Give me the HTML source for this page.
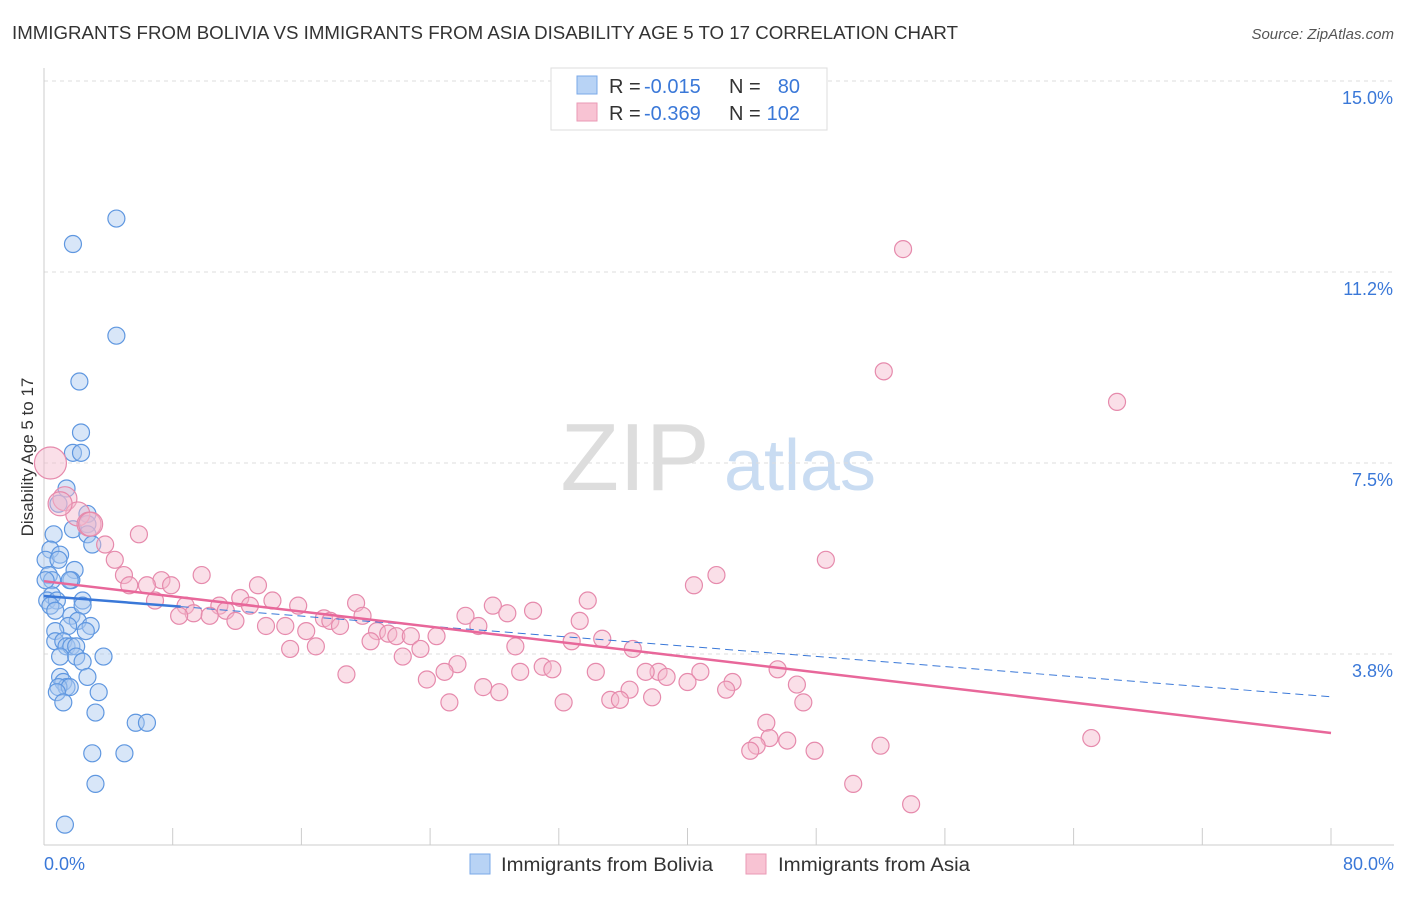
<!DOCTYPE html>
<html><head><meta charset="utf-8"><style>
body{margin:0;background:#fff;font-family:"Liberation Sans",sans-serif;}
svg text{font-family:"Liberation Sans",sans-serif;}
</style></head><body>
<svg width="1406" height="892" xmlns="http://www.w3.org/2000/svg" id="c">
<text x="12" y="39" font-size="18" fill="#333" textLength="946" lengthAdjust="spacingAndGlyphs">IMMIGRANTS FROM BOLIVIA VS IMMIGRANTS FROM ASIA DISABILITY AGE 5 TO 17 CORRELATION CHART</text>
<text x="1394" y="39" font-size="15" fill="#555" text-anchor="end" font-style="italic">Source: ZipAtlas.com</text>
<text transform="translate(33,457) rotate(-90)" font-size="17" fill="#333" text-anchor="middle">Disability Age 5 to 17</text>
<g>
<text x="635" y="490" font-size="96" fill="#ddd" text-anchor="middle" font-family="Liberation Serif, serif">ZIP</text>
<text x="800" y="490" font-size="72" fill="#c9dcf2" text-anchor="middle">atlas</text>
</g>
<g id="grid"></g><g id="axes"></g><g id="pts"></g><g id="trend"></g>
<g>
<rect x="551" y="68" width="276" height="62" fill="#fff" stroke="#ddd"/>
<rect x="577" y="76" width="20" height="18" fill="#b8d3f5" stroke="#7aa8e8"/>
<rect x="577" y="103" width="20" height="18" fill="#f8c3d3" stroke="#ea9ab6"/>
<text x="609" y="93" font-size="20" fill="#333">R =</text>
<text x="644" y="93" font-size="20" fill="#3a78d8">-0.015</text>
<text x="729" y="93" font-size="20" fill="#333">N =</text>
<text x="800" y="93" font-size="20" fill="#3a78d8" text-anchor="end">80</text>
<text x="609" y="120" font-size="20" fill="#333">R =</text>
<text x="644" y="120" font-size="20" fill="#3a78d8">-0.369</text>
<text x="729" y="120" font-size="20" fill="#333">N =</text>
<text x="800" y="120" font-size="20" fill="#3a78d8" text-anchor="end">102</text>
</g>
<g>
<rect x="470" y="854" width="20" height="20" fill="#b8d3f5" stroke="#7aa8e8"/>
<text x="501" y="871" font-size="19" fill="#333" textLength="212" lengthAdjust="spacingAndGlyphs">Immigrants from Bolivia</text>
<rect x="746" y="854" width="20" height="20" fill="#f8c3d3" stroke="#ea9ab6"/>
<text x="778" y="871" font-size="19" fill="#333" textLength="192" lengthAdjust="spacingAndGlyphs">Immigrants from Asia</text>
</g>
</svg>
<script>
const yTicks=[3.8,7.5,11.2,15.0];
const yTickVals=[3.75,7.5,11.25,15.0];
const xTickLabels=["0.0%","80.0%"];
const blueX=[4.5,1.8,4.5,2.2,2.3,1.8,2.3,1.4,0.9,2.7,2.7,1.8,2.7,0.6,3.0,0.4,0.1,1.0,0.9,1.9,0.3,1.7,0.5,1.6,0.1,0.5,0.2,0.8,2.4,0.4,0.7,1.7,2.4,2.1,2.9,1.5,0.7,2.6,0.7,1.2,1.4,1.7,2.0,1.0,2.0,2.4,3.7,2.7,1.0,1.2,1.4,0.9,1.6,0.8,3.4,1.2,3.2,5.7,6.4,3.0,5.0,3.2,1.3];
const blueY=[12.3,11.8,10.0,9.1,8.1,7.7,7.7,7.0,6.7,6.5,6.3,6.2,6.1,6.1,5.9,5.8,5.6,5.7,5.6,5.4,5.3,5.2,5.2,5.2,5.2,4.9,4.8,4.8,4.8,4.7,4.6,4.5,4.7,4.4,4.3,4.3,4.2,4.2,4.0,4.0,3.9,3.9,3.9,3.7,3.7,3.6,3.7,3.3,3.3,3.2,3.1,3.1,3.1,3.0,3.0,2.8,2.6,2.4,2.4,1.8,1.8,1.2,0.4];
const pinkX=[53.4,52.2,66.7,0.4,1.3,2.1,2.8,5.9,3.8,4.4,48.6,4.97,9.8,41.8,7.3,40.4,5.3,6.4,7.9,13.3,12.2,6.9,14.2,33.8,15.8,19.4,10.9,12.8,8.8,11.3,27.9,30.4,9.3,8.4,10.3,28.8,19.8,26.2,33.3,17.4,17.8,11.9,27.0,13.8,15.0,18.4,16.3,20.7,21.4,21.9,22.8,24.4,34.7,20.3,29.3,32.8,16.9,15.3,23.4,36.6,22.3,25.7,31.0,31.6,29.6,34.3,38.2,37.4,38.7,40.8,45.6,24.9,18.8,23.8,40.0,42.8,27.3,46.8,42.4,36.4,28.3,35.2,35.8,37.8,25.2,32.3,47.2,44.9,45.1,46.2,44.3,43.9,65.1,52.0,47.9,50.3,53.9,1.0,2.9];
const pinkY=[11.7,9.3,8.7,7.5,6.8,6.5,6.3,6.1,5.9,5.6,5.6,5.3,5.3,5.3,5.2,5.1,5.1,5.1,5.1,5.1,4.85,4.8,4.8,4.8,4.7,4.75,4.7,4.7,4.7,4.6,4.7,4.6,4.55,4.5,4.5,4.55,4.5,4.5,4.4,4.45,4.4,4.4,4.3,4.3,4.3,4.3,4.2,4.2,4.15,4.1,4.1,4.1,4.05,4.0,3.9,4.0,3.9,3.85,3.85,3.85,3.7,3.55,3.5,3.45,3.4,3.4,3.4,3.4,3.3,3.4,3.45,3.4,3.35,3.25,3.2,3.2,3.1,3.15,3.05,3.05,3.0,2.85,2.85,2.9,2.8,2.8,2.8,2.4,2.1,2.05,1.95,1.85,2.1,1.95,1.85,1.2,0.8,6.7,6.3];
const blueTrend=[4.89,2.91];
const pinkTrend=[5.18,2.20];
const X=v=>44+v*(1331-44)/80, Y=v=>845-v*50.93;
const NS="http://www.w3.org/2000/svg";
function mk(p,t,a){const e=document.createElementNS(NS,t);for(const k in a)e.setAttribute(k,a[k]);document.getElementById(p).appendChild(e);return e;}
yTickVals.forEach((v,i)=>{
 const l=mk('grid','line',{x1:44,x2:1394,y1:Y(v),y2:Y(v),stroke:'#ddd','stroke-dasharray':'4,4'});
 
 
 const t=mk('grid','text',{x:1393,y:Y(v)+23,'font-size':18,fill:'#3a78d8','text-anchor':'end'});
 t.textContent=yTicks[i].toFixed(1)+'%';
 
 
});
const ax=mk('axes','line',{x1:44,x2:44,y1:68,y2:845,stroke:'#ccc'});


const bx=mk('axes','line',{x1:44,x2:1394,y1:845,y2:845,stroke:'#ccc'});


for(let i=0;i<=10;i++){const t=mk('axes','line',{x1:X(i*8),x2:X(i*8),y1:828,y2:845,stroke:'#ccc'});
 
 }
[[0,'start',44],[80,'end',1394]].forEach((d,i)=>{const t=mk('axes','text',{x:d[2],y:870,'font-size':18,fill:'#3a78d8','text-anchor':d[1]});t.textContent=xTickLabels[i];
 
 });
blueX.forEach((v,i)=>{const c=mk('pts','circle',{cx:X(v),cy:Y(blueY[i]),r:8.5,fill:'#a9c8f0','fill-opacity':0.45,stroke:'#5f97e0','stroke-width':1.2});
 
 });
pinkX.forEach((v,i)=>{const r=(v<3&&pinkY[i]>6)?(i==3?16:12):8.5;const c=mk('pts','circle',{cx:X(v),cy:Y(pinkY[i]),r:r,fill:'#f5b8cc','fill-opacity':0.45,stroke:'#e68aac','stroke-width':1.2});
 
 });
const bs=v=>blueTrend[0]+(blueTrend[1]-blueTrend[0])*v/80;
const t1=mk('trend','line',{x1:X(0),y1:Y(bs(0)),x2:X(8.5),y2:Y(bs(8.5)),stroke:'#3a78d8','stroke-width':2.5});


const t2=mk('trend','line',{x1:X(8.5),y1:Y(bs(8.5)),x2:X(80),y2:Y(bs(80)),stroke:'#3a78d8','stroke-width':1,'stroke-dasharray':'8,5'});


const t3=mk('trend','line',{x1:X(0),y1:Y(pinkTrend[0]),x2:X(80),y2:Y(pinkTrend[1]),stroke:'#e8679a','stroke-width':2.5});


</script>
</body></html>
